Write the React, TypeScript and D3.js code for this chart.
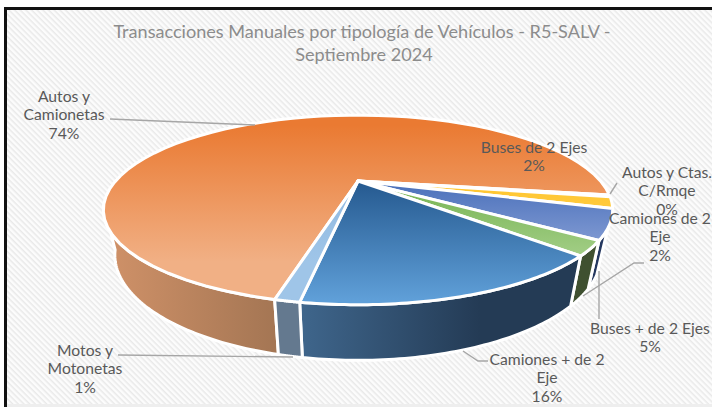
import React from "react";
import * as d3 from "d3";

const categories = ["Autos y Camionetas", "Autos y Ctas. C/Rmqe", "Buses de 2 Ejes", "Buses + de 2 Ejes", "Camiones de 2 Eje", "Camiones + de 2 Eje", "Motos y Motonetas"];
const values = [73.6, 0.3, 1.9, 5.0, 2.4, 15.6, 1.2];
const topFrom = ["#ea7a32", "#bbbbbb", "#ffc52c", "#4a70ba", "#74b250", "#25598f", "#8fb8e0"];
const topTo = ["#f1b085", "#cccccc", "#ffd463", "#90a6da", "#a6d08a", "#5f9fd8", "#9fc5e8"];
const wallFrom = ["#cf9168", "#777777", "#8a6c18", "#24375f", "#3f5030", "#3f668c", "#64798f"];
const wallTo = ["#a37553", "#777777", "#8a6c18", "#24375f", "#3f5030", "#243b55", "#64798f"];

type Label = { lines: string[]; x: number; y: number };
const labels: Label[] = [
  { lines: ["Autos y", "Camionetas", "74%"], x: 64, y: 102 },
  { lines: ["Autos y Ctas.", "C/Rmqe", "0%"], x: 667, y: 178 },
  { lines: ["Buses de 2 Ejes", "2%"], x: 534, y: 153 },
  { lines: ["Buses + de 2 Ejes", "5%"], x: 650, y: 334 },
  { lines: ["Camiones de 2", "Eje", "2%"], x: 660, y: 224 },
  { lines: ["Camiones + de 2", "Eje", "16%"], x: 547, y: 365 },
  { lines: ["Motos y", "Motonetas", "1%"], x: 85, y: 356 },
];
const leaders: [number, number][][] = [
  [[110, 119], [255, 125]],
  [[617, 183], [610, 194]],
  [[644, 263], [634, 263], [583, 296]],
  [[599, 271], [599, 319]],
  [[463, 351], [478, 361], [488, 361]],
  [[118, 355], [293, 357]],
];

const cx = 358, cy = 181, A = 242.5, B = 86, K = -0.305;
const project = (theta: number, wall: boolean): [number, number] => {
  const u = Math.cos(theta), v = Math.sin(theta), d = 1 + K * v;
  const x = (A * u) / d, y = (B * v) / d;
  return wall ? [cx + 0.955 * x, 223 + 1.11 * y] : [cx + x, cy + y];
};
const rad = (deg: number) => (deg * Math.PI) / 180;
const arcPts = (a: number, b: number, wall: boolean) => d3.range(0, 61).map((i) => project(a + ((b - a) * i) / 60, wall));
const line = d3.line();

const arcs = d3.pie<number>().sort(null).startAngle(rad(194)).endAngle(rad(194 + 360))(values);
const wallMin = rad(28), wallMax = rad(165);

export default function App() {
  const wedges = arcs.map((s) => {
    const a = s.startAngle - Math.PI / 2, b = s.endAngle - Math.PI / 2;
    return { a, b, top: (line([[cx, cy], ...arcPts(a, b, false)]) as string) + "Z" };
  });
  const walls = wedges.map((w, i) => {
    const spans: [number, number][] = [];
    for (const off of [0, Math.PI * 2, -Math.PI * 2]) {
      const lo = Math.max(w.a + off, wallMin), hi = Math.min(w.b + off, wallMax);
      if (hi > lo) spans.push([lo, hi]);
    }
    return { i, spans };
  });
  return (
    <svg width={712} height={407} style={{ position: "absolute", left: 0, top: 0, background: "#fff" }} fontFamily="Lato, Carlito, sans-serif">
      <defs>
        <pattern id="hatch" width={4} height={4} patternUnits="userSpaceOnUse" patternTransform="rotate(45)">
          <rect width={4} height={4} fill="#fcfcfc" />
          <rect width={4} height={1.5} fill="#e9e9e9" />
        </pattern>
        {values.map((_, i) => (
          <linearGradient key={i} id={`top${i}`} gradientUnits="userSpaceOnUse" x1={0} x2={0} y1={i === 0 ? 125 : 181} y2={i === 0 ? 262 : i === 5 ? 300 : 262}>
            <stop offset="0" stopColor={topFrom[i]} />
            <stop offset="1" stopColor={topTo[i]} />
          </linearGradient>
        ))}
        {values.map((_, i) => (
          <linearGradient key={i} id={`wall${i}`} gradientUnits="userSpaceOnUse" x1={i === 0 ? 110 : 300} x2={i === 0 ? 280 : 480} y1={0} y2={0}>
            <stop offset="0" stopColor={wallFrom[i]} />
            <stop offset="1" stopColor={wallTo[i]} />
          </linearGradient>
        ))}
      </defs>
      <rect x={5.5} y={8.5} width={720} height={398} fill="url(#hatch)" stroke="#111" strokeWidth={3} />
      <rect x={7} y={404} width={705} height={3} fill="#eeeeee" />
      {walls.map(({ i, spans }) =>
        spans.map(([lo, hi], k) => {
          const d = (line([...arcPts(lo, hi, false), ...arcPts(lo, hi, true).reverse()]) as string) + "Z";
          return <path key={`${i}-${k}`} d={d} fill={`url(#wall${i})`} stroke="#fff" strokeWidth={3} strokeLinejoin="round" />;
        })
      )}
      {wedges.map((w, i) => (
        <path key={i} d={w.top} fill={`url(#top${i})`} stroke="#fff" strokeWidth={3} strokeLinejoin="round" />
      ))}
      {leaders.map((p, i) => (
        <path key={i} d={line(p) as string} fill="none" stroke="#a6a6a6" strokeWidth={1.4} />
      ))}
      <g fill="#8c8c8c" fontSize={18.1} textAnchor="middle">
        <text x={362} y={38}>Transacciones Manuales por tipología de Vehículos - R5-SALV -</text>
        <text x={364} y={61}>Septiembre 2024</text>
      </g>
      <g fill="#595959" fontSize={15.7} textAnchor="middle">
        {labels.map((l, i) => (
          <text key={i} x={l.x} y={l.y}>
            {l.lines.map((t, j) => (
              <tspan key={j} x={l.x} dy={j === 0 ? 0 : 18.3}>{t}</tspan>
            ))}
          </text>
        ))}
      </g>
    </svg>
  );
}
